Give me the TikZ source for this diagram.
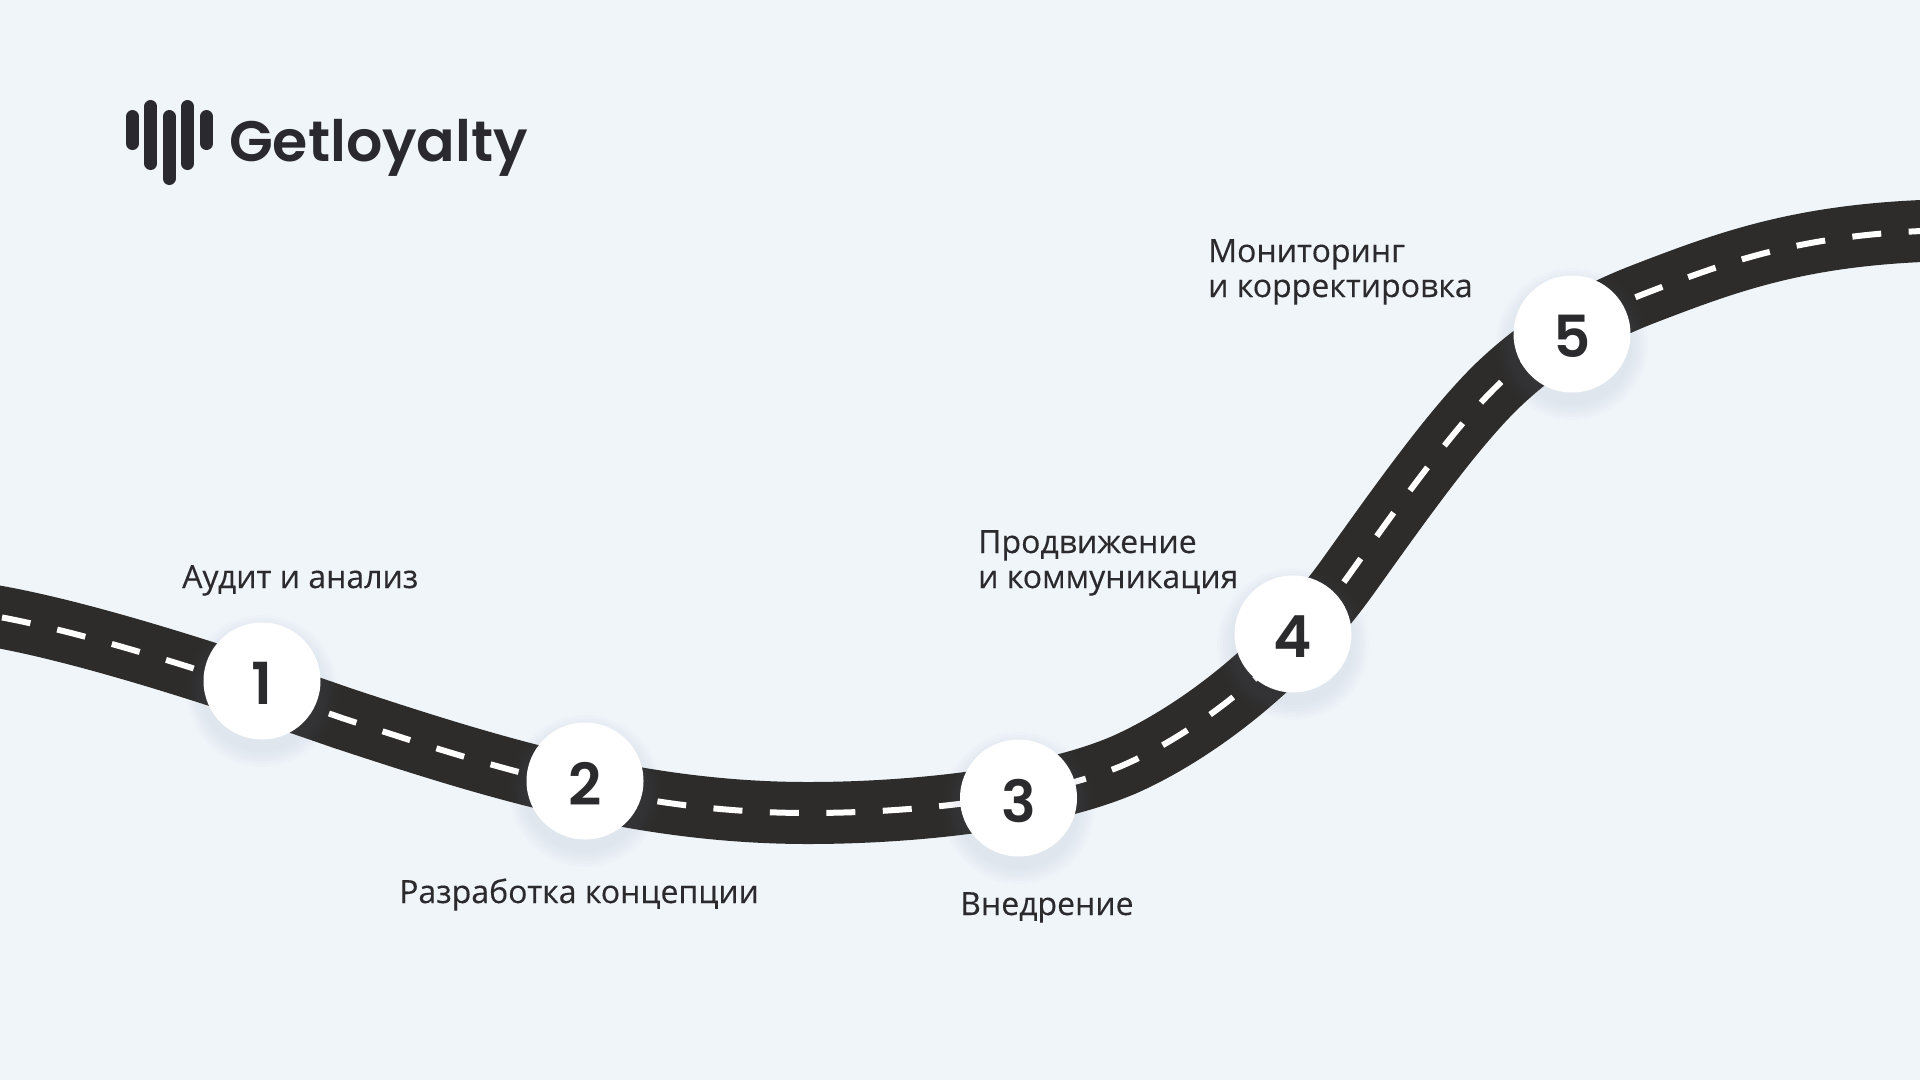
\documentclass[tikz,border=0pt]{standalone}
\usepackage{fontspec}
\setmainfont{Open Sans}[FakeBold=0.25]
\newfontfamily\logofont{Poppins}[UprightFont=* SemiBold]
\newfontfamily\numfont{Poppins}[UprightFont=* SemiBold]
\definecolor{bgc}{HTML}{F0F5FA}
\definecolor{roadc}{HTML}{2D2C2A}
\definecolor{inkc}{HTML}{2B2A2C}
\definecolor{logoc}{HTML}{2B2930}
\definecolor{shadowc}{HTML}{7C8796}
\tikzset{
  roadpath/.style={line width=62pt,draw=roadc},
  dashpath/.style={line width=6pt,draw=white,dash pattern=on 29pt off 27.5pt},
  stopdisc/.style={circle,fill=white,minimum size=117pt,inner sep=0pt,text=inkc,font=\numfont\fontsize{58}{58}\selectfont},
  lbl/.style={anchor=base west,text=inkc,inner sep=0pt,font=\fontsize{32}{35}\selectfont,align=left},
  logobar/.style={line width=13pt,draw=logoc,line cap=round}
}
\newcommand{\softshadow}[2]{%
  \foreach \r in {76,73,70,67,64,61}{\fill[shadowc,opacity=0.018] (#1,#2+10) circle (\r pt);}}
\newcommand{\roadline}{(-40,611) .. controls (60,622) and (230,679) .. (342,718)
  .. controls (492,767.5) and (638,813) .. (808,813)
  .. controls (910,813) and (1040,800) .. (1122,765.7)
  .. controls (1172,744.2) and (1270,685.6) .. (1349,575)
  .. controls (1399,505) and (1452,430) .. (1497,386)
  .. controls (1545,340) and (1595,312.5) .. (1647,292.7)
  .. controls (1740,257) and (1820,228) .. (1990,230)}
\newcommand{\dignum}[1]{\vbox{\kern5pt\hbox{#1}}}
\begin{document}
\begin{tikzpicture}[x=1pt,y=-1pt]
\useasboundingbox (0,0) rectangle (1920,1080);
\fill[bgc] (0,0) rectangle (1920,1080);
\draw[roadpath] \roadline;
\foreach \xa/\xb/\ph in {0/262/14,262/585/12,585/1018/10.5,1018/1293/3,1293/1572/40,1572/1920/21}{
  \begin{scope}
    \clip (\xa,0) rectangle (\xb,1080);
    \draw[dashpath,dash phase=\ph pt] \roadline;
  \end{scope}}
\softshadow{262}{681}\softshadow{585}{781}\softshadow{1018.5}{798}\softshadow{1293}{634}\softshadow{1572}{334}
\node[stopdisc] (s1) at (262,681) {\dignum{1}};
\node[stopdisc] (s2) at (585,781) {\dignum{2}};
\node[stopdisc] (s3) at (1018.5,798) {\dignum{3}};
\node[stopdisc] (s4) at (1293,634) {\dignum{4}};
\node[stopdisc] (s5) at (1572,334) {\dignum{5}};
\node[lbl] (t1) at (182,588) {Аудит и анализ};
\node[lbl] (t2) at (399,903) {Разработка концепции};
\node[lbl] (t3) at (960,915) {Внедрение};
\node[lbl] (t4) at (978,588) {Продвижение\\и коммуникация};
\node[lbl] (t5) at (1208,297) {Мониторинг\\и корректировка};
\foreach \x/\a/\b in {132.5/110/150,150.8/100/170,169.2/110/185,187.5/100/170,206.5/110/150}{
  \draw[logobar] (\x,\a+6.5) -- (\x,\b-6.5);}
\node[anchor=base west,inner sep=0pt,text=logoc,font=\logofont\fontsize{57}{57}\selectfont] (logo) at (229,161) {Getloyalty};
\end{tikzpicture}
\end{document}
